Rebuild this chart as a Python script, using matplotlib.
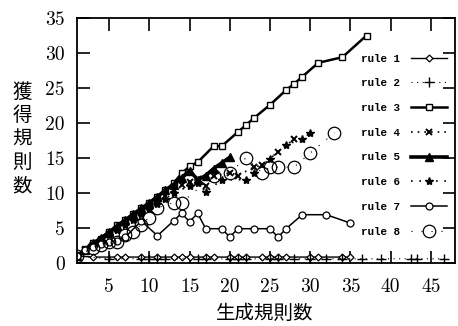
import numpy as np
import matplotlib
matplotlib.use("Agg")
import matplotlib.pyplot as plt

# values
r1_x = [1, 3, 6, 7, 9, 11, 13, 14, 15, 17, 18, 20, 21, 22, 24, 25, 26, 27, 30, 31, 34, 35]
r1_y = [1] + [0.85] * 21

r2_x = [1, 5, 9, 10, 11, 12, 16, 17, 20, 21, 22, 25, 26, 28, 30, 32, 34, 36.4, 38.8, 42.5, 43.3, 46.6]
r2_y = [1] + [0.6] * 21

r3_x = [1, 2, 3, 4, 5, 6, 7, 8, 9, 10, 11, 12, 13, 14, 15, 16, 18, 19, 21, 22, 23, 25, 27, 28, 29, 31, 34, 37]
r3_y = [1, 2, 2.8, 3.5, 4.5, 5.4, 6.2, 7, 7.8, 8.6, 9.4, 10.4, 11.4, 12.8, 13.8, 14.4,
        16.7, 16.7, 18.7, 19.7, 20.7, 22.6, 24.7, 25.6, 26.6, 28.6, 29.4, 32.5]

r4_x = [1, 2, 3, 4, 5, 6, 7, 8, 9, 10, 11, 12, 13, 14, 15, 16, 17, 18, 20, 21, 23, 24, 26, 28]
r4_y = [1, 1.8, 2.6, 3.3, 4.1, 4.9, 5.7, 6.4, 7.2, 8, 8.8, 9.6, 10.4, 11.2, 11.6, 12, 11,
        12.4, 12.9, 12.5, 13.7, 14, 15.9, 17.7]

r5_x = [1, 2, 3, 4, 5, 6, 7, 8, 9, 10, 11, 12, 13, 14, 15, 16, 17, 18, 19, 20]
r5_y = [1, 1.9, 2.8, 3.6, 4.4, 5.3, 6.1, 7, 7.8, 8.6, 9.5, 10.4, 11.2, 12.2, 13.2, 11.9,
        12.5, 13.5, 14.3, 15.1]

r6_x = [1, 2, 3, 4, 5, 6, 7, 8, 9, 10, 11, 12, 13, 15, 16, 17, 19, 22, 23, 25, 27, 29, 30]
r6_y = [1, 1.7, 2.5, 3.2, 4, 4.7, 5.5, 6.2, 7, 7.7, 8.5, 9.2, 10, 11, 11.5, 10.1, 11.9,
        11.9, 12.9, 14.9, 16.9, 17.7, 18.6]

r7_x = [1, 2, 3, 4, 5, 6, 7, 9, 11, 13, 14, 15, 16, 17, 19, 20, 21, 23, 25, 26, 27, 29, 32, 35]
r7_y = [1, 1.8, 2.3, 2.7, 3, 3.2, 3.7, 6, 3.9, 6, 7.1, 5.9, 7.1, 4.9, 4.9, 3.7, 4.9, 4.9,
        4.9, 3.7, 4.9, 6.9, 6.9, 5.7]

r8_x = [1, 3, 4, 5, 6, 7, 8, 9, 10, 11, 13, 14, 18, 20, 22, 24, 25, 26, 28, 30, 33]
r8_y = [1, 2.2, 2.6, 3, 3, 4, 4.5, 5.5, 6.5, 7.9, 8.6, 8.6, 12.5, 12.9, 15, 12.9, 13.7,
        13.7, 13.7, 15.7, 18.6]

xticks = [5, 10, 15, 20, 25, 30, 35, 40, 45]
yticks = [0, 5, 10, 15, 20, 25, 30, 35]
xlabel = "生成規則数"
ylabel = "獲得規則数"

fig = plt.figure(figsize=(4.58, 3.26), dpi=100)
ax = fig.add_axes([77 / 458, 1 - 263 / 326, (455 - 77) / 458, (263 - 18) / 326])

k = dict(color="black")
ax.plot(r1_x, r1_y, marker="D", ms=3.5, mfc="white", mew=0.9, lw=1.0, label="rule 1", **k)
ax.plot(r2_x, r2_y, marker="+", ms=7, mew=1.0, lw=0.8, ls=(0, (1, 4)), label="rule 2", **k)
ax.plot(r3_x, r3_y, marker="s", ms=4.8, mfc="white", mew=1.0, lw=1.8, label="rule 3", **k)
ax.plot(r4_x, r4_y, marker="x", ms=5, mew=1.4, lw=1.2, ls=(0, (1, 3)), label="rule 4", **k)
ax.plot(r5_x, r5_y, marker="^", ms=5.5, lw=2.6, label="rule 5", **k)
ax.plot(r6_x, r6_y, marker="*", ms=6, lw=1.2, ls=(0, (1, 4)), label="rule 6", **k)
ax.plot(r7_x, r7_y, marker="o", ms=5, mfc="white", mew=0.9, lw=1.1, label="rule 7", **k)
ax.plot(r8_x, r8_y, marker="o", ms=9, mfc="none", mew=0.9, lw=0.8, ls=(0, (1, 8)), label="rule 8", **k)

ax.set_xlim(1, 48)
ax.set_ylim(0, 35)
ax.set_xticks(xticks)
ax.set_yticks(yticks)
for s in ax.spines.values():
    s.set_linewidth(1.3)
ax.tick_params(direction="in", length=9, width=1.2, top=True, right=True)
ax.tick_params(axis="x", pad=11)
ax.tick_params(axis="y", pad=9)
for t in ax.get_xticklabels() + ax.get_yticklabels():
    t.set_fontfamily("cmr10")
    t.set_fontsize(14)

leg = ax.legend(loc="upper right", bbox_to_anchor=(0.98, 0.855), frameon=False,
                markerfirst=False, handlelength=3.4, handletextpad=1.0,
                labelspacing=1.36, borderpad=0, borderaxespad=0,
                prop={"family": "Liberation Mono", "weight": "bold", "size": 7.8})

# axis titles, Japanese, y one stacked vertically
fig.text(265 / 458, 1 - 313 / 326, xlabel, family="Noto Sans CJK JP", fontsize=14,
         ha="center", va="center")
for i, ch in enumerate(ylabel):
    fig.text(22 / 458, 1 - (92 + i * 23.5) / 326, ch, family="Noto Sans CJK JP",
             fontsize=14, ha="center", va="center")

fig.savefig("out.png", dpi=100)
